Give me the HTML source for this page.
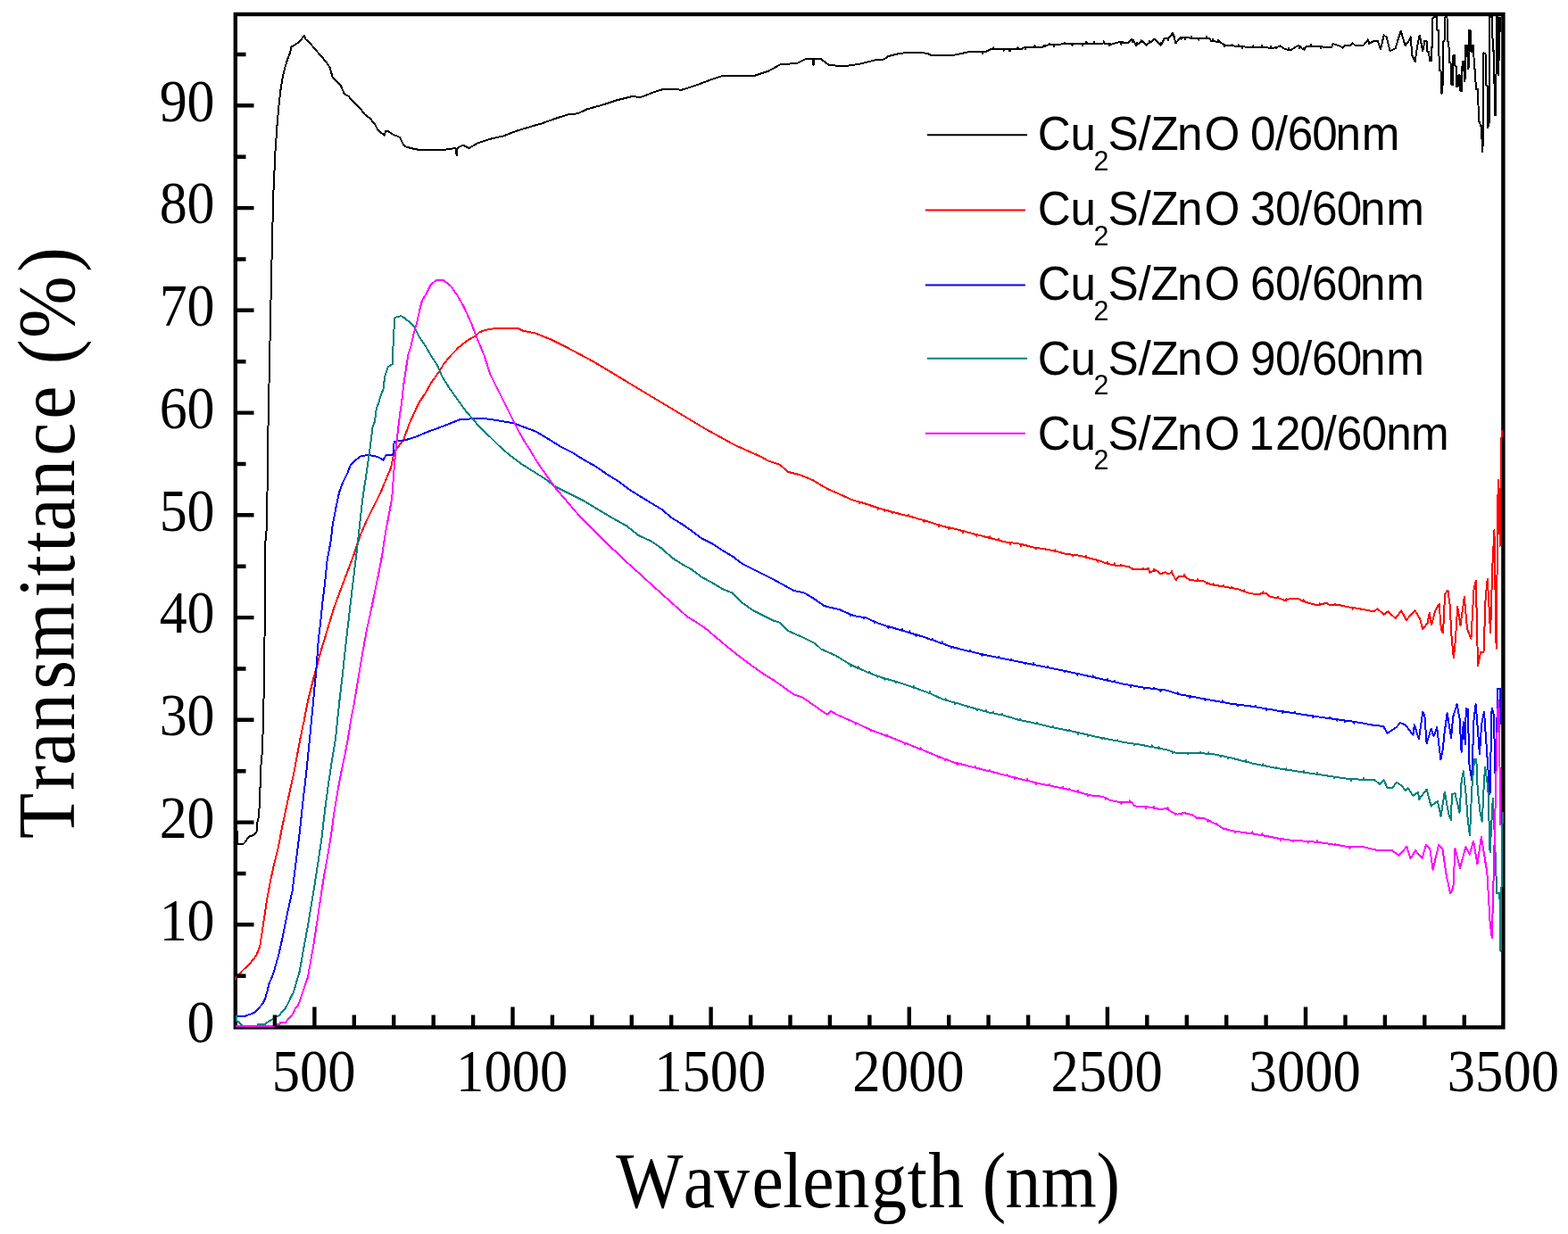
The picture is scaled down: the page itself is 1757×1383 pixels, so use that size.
<!DOCTYPE html>
<html><head><meta charset="utf-8"><style>
html,body{margin:0;padding:0;background:#fff;}
svg{display:block;}
</style></head><body>
<svg width="1757" height="1383" viewBox="0 0 1757 1383">
<rect width="1757" height="1383" fill="#fff"/>
<rect x="263.8" y="16" width="1420.6" height="1135.4" fill="none" stroke="#000" stroke-width="4.4"/><path d="M265.0 923.0L266.5 946.0 272.0 946.5 274.5 944.0 278.8 937.7 284.6 935.9 287.8 931.5 288.5 921.4 290.0 915.0 291.2 893.2 292.2 860.0 294.1 840.0 296.1 759.0 297.5 606.0 299.0 590.0 300.4 483.0 302.7 373.3 304.8 278.0 306.2 220.0 308.4 171.1 310.6 139.3 312.8 114.7 315.0 96.6 317.1 85.1 319.3 75.7 322.2 66.3 325.1 59.0 326.5 52.5 329.4 51.1 335.2 46.8 341.0 40.2 342.4 43.9 346.8 47.5 352.6 54.7 359.8 62.7 366.3 70.6 369.9 76.4 372.8 87.2 375.7 89.4 381.5 95.2 385.8 105.3 390.2 107.5 395.9 114.0 404.6 122.7 409.0 128.5 414.7 132.8 420.5 140.0 423.4 145.8 430.6 151.6 432.1 147.3 435.0 147.3 440.8 150.9 448.0 153.8 452.3 162.4 455.2 164.6 465.0 167.2 474.1 168.3 499.2 167.6 510.6 166.0 511.7 174.0 512.5 166.0 518.5 162.6 525.4 166.0 535.6 160.3 549.3 155.8 564.1 152.4 578.9 146.7 599.4 140.5 606.2 138.7 622.1 133.0 635.8 128.5 647.2 127.3 658.6 122.1 676.8 117.1 690.4 112.5 708.6 108.0 717.7 109.1 733.7 102.9 742.8 100.1 764.4 100.6 783.7 94.2 802.0 87.4 811.0 84.6 846.4 84.6 861.2 79.6 874.8 72.1 893.0 71.0 902.1 66.4 911.2 66.0 911.5 73.3 912.0 66.0 920.3 66.4 929.4 73.3 947.7 73.9 961.3 72.1 979.5 67.6 990.9 66.4 995.5 63.0 1009.1 59.6 1025.0 59.1 1038.7 59.6 1043.3 61.9 1066.0 62.3 1084.3 58.5 1100.8 57.9 1101.2 60.4 1101.6 57.9 1104.7 57.8 1109.3 55.5 1112.9 55.3 1113.3 53.3 1113.7 55.3 1120.0 55.0 1124.3 55.1 1124.7 56.9 1125.1 55.1 1131.1 55.1 1131.5 57.5 1131.9 55.1 1140.1 55.3 1140.5 53.2 1140.9 55.3 1144.4 55.3 1147.8 53.0 1148.6 53.0 1149.0 55.0 1149.4 53.0 1159.0 53.0 1159.4 51.1 1159.8 53.0 1168.3 53.0 1170.6 50.7 1170.6 50.7 1171.0 52.5 1171.4 50.7 1175.9 50.3 1176.3 48.7 1176.7 50.3 1180.7 50.0 1181.1 52.3 1181.5 50.0 1192.7 49.3 1193.1 47.4 1193.5 49.3 1195.6 49.1 1201.1 49.0 1201.5 51.0 1201.9 49.0 1212.5 48.8 1212.9 51.1 1213.3 48.8 1217.0 48.8 1217.4 46.6 1217.8 48.8 1225.5 48.7 1225.9 46.7 1226.3 48.7 1236.5 48.5 1236.6 48.5 1236.9 46.3 1237.3 48.5 1243.0 49.3 1243.4 51.2 1243.8 49.3 1245.7 49.6 1254.8 46.9 1256.0 47.2 1256.4 49.6 1256.8 47.2 1263.9 48.5 1268.5 43.9 1268.7 44.7 1269.1 46.7 1269.5 44.7 1273.0 50.7 1273.4 50.2 1273.8 48.0 1274.2 50.2 1278.2 47.1 1278.6 45.2 1279.0 47.1 1279.9 46.2 1284.4 50.7 1287.5 48.1 1287.9 46.0 1288.3 48.1 1293.5 43.9 1300.3 50.7 1300.5 49.7 1300.9 47.8 1301.3 49.7 1304.9 42.8 1308.4 42.8 1308.8 44.8 1309.2 42.8 1309.4 42.8 1314.0 37.1 1314.9 41.3 1315.3 39.3 1315.7 41.3 1317.4 48.5 1323.1 41.6 1323.2 41.6 1323.6 44.1 1324.0 41.6 1327.9 42.1 1328.3 44.0 1328.7 42.1 1334.4 42.6 1334.8 40.7 1335.2 42.6 1336.8 42.8 1342.9 42.8 1343.3 44.8 1343.7 42.8 1351.8 42.8 1352.2 40.8 1352.6 42.8 1355.0 42.8 1357.3 46.2 1358.4 46.3 1358.8 44.0 1359.2 46.3 1365.0 46.8 1365.4 44.8 1365.8 46.8 1366.3 46.9 1371.5 50.0 1371.9 52.3 1372.3 50.0 1373.2 50.7 1380.1 51.3 1380.5 49.7 1380.9 51.3 1382.3 51.4 1387.2 51.9 1387.6 50.3 1388.0 51.9 1391.9 52.3 1392.3 54.2 1392.7 52.3 1400.5 53.0 1403.9 53.1 1404.3 51.3 1404.7 53.1 1413.4 53.3 1413.8 51.0 1414.2 53.3 1423.7 53.6 1424.1 51.8 1424.5 53.6 1427.8 53.7 1429.9 52.9 1430.3 54.5 1430.7 52.9 1434.6 51.4 1439.2 54.6 1443.3 55.8 1443.7 53.8 1444.1 55.8 1446.0 56.4 1455.1 50.7 1455.6 51.6 1456.0 53.7 1456.4 51.6 1459.7 55.3 1461.2 53.9 1461.6 55.8 1462.0 53.9 1464.2 51.9 1468.7 51.9 1469.1 49.9 1469.5 51.9 1477.9 51.9 1479.6 52.2 1480.0 53.8 1480.4 52.2 1484.7 53.0 1492.3 53.0 1493.5 49.1 1502.1 51.8 1504.6 53.6 1507.0 51.2 1513.2 50.6 1515.7 48.4 1518.1 50.6 1528.0 50.6 1532.9 44.4 1534.1 48.7 1539.0 46.3 1543.9 46.3 1547.0 55.5 1550.7 39.5 1553.8 42.0 1557.5 57.3 1563.6 54.3 1567.3 42.0 1569.8 34.6 1572.2 43.2 1574.7 51.2 1578.4 46.3 1580.8 41.4 1582.1 61.6 1585.7 69.0 1588.2 51.2 1590.7 39.5 1594.3 57.3 1596.5 45.6 1598.5 45.6 1599.5 58.0 1601.0 58.0 1602.0 67.8 1604.0 67.8 1604.3 53.0 1605.0 53.0 1605.5 20.4 1607.0 18.6 1610.0 18.6 1610.5 34.0 1612.0 34.0 1612.8 79.4 1614.5 79.4 1615.5 104.6 1616.5 97.9 1617.5 45.6 1618.5 45.6 1619.5 18.6 1621.5 18.6 1621.8 45.6 1623.3 48.1 1624.3 70.2 1625.5 70.2 1626.5 94.8 1628.0 94.8 1628.5 61.6 1630.0 61.6 1630.5 73.9 1631.5 73.9 1632.3 97.3 1633.5 97.3 1634.5 83.7 1635.5 83.7 1636.5 102.2 1638.0 102.2 1638.6 69.0 1640.0 69.0 1641.0 91.1 1641.5 91.1 1642.0 50.6 1644.0 50.6 1645.0 77.0 1645.5 77.0 1646.3 34.0 1647.5 34.0 1648.5 57.9 1649.5 57.9 1650.3 50.6 1651.0 50.6 1652.0 77.6 1653.0 77.6 1653.8 99.7 1656.0 99.7 1657.0 136.6 1658.0 136.6 1658.8 140.9 1660.0 140.9 1661.0 169.8 1661.8 161.2 1662.5 59.2 1664.5 60.4 1665.5 96.0 1666.5 96.0 1667.0 142.7 1668.5 140.3 1669.0 18.6 1672.0 18.6 1672.8 56.7 1674.0 56.7 1675.0 129.2 1676.0 129.2 1676.5 83.7 1677.0 18.6 1678.5 18.6 1679.0 83.7 1680.0 54.2 1681.0 18.6" fill="none" stroke="#000000" stroke-width="2" stroke-linejoin="round" shape-rendering="crispEdges"/>
<path d="M263.0 1097.0L265.7 1094.6 269.1 1090.6 273.0 1086.5 280.0 1080.0 287.3 1070.8 291.3 1060.4 295.2 1034.4 299.1 1008.3 303.0 987.5 306.9 969.3 312.1 948.4 316.0 927.6 319.9 909.4 323.8 891.1 329.0 867.7 332.9 846.9 336.8 826.0 340.7 807.8 344.6 787.2 352.0 757.7 359.3 730.7 366.7 706.1 374.1 681.5 381.4 661.9 388.8 642.2 396.2 622.5 403.6 600.4 410.9 583.2 418.3 568.5 425.7 553.7 431.8 539.0 438.0 524.2 441.6 506.9 452.1 493.0 459.0 473.9 469.4 451.4 476.4 441.0 483.3 428.8 492.0 416.7 497.2 408.0 505.9 397.6 514.5 388.9 523.2 382.0 533.6 375.9 537.1 372.4 544.0 369.8 554.4 368.1 580.5 368.1 585.7 370.7 599.6 373.3 610.0 377.6 616.9 380.2 625.6 384.6 637.7 390.7 663.6 404.5 695.4 423.6 727.2 442.7 759.0 461.8 790.8 480.9 822.6 498.4 854.5 512.7 860.0 516.2 873.9 520.8 883.1 528.9 897.0 532.4 910.9 538.2 920.0 543.7 928.8 548.7 937.1 552.2 954.1 559.9 963.0 562.7 963.4 564.5 963.8 562.7 971.2 565.0 983.3 569.1 983.7 570.6 984.1 569.1 988.3 570.6 991.0 571.4 991.4 572.8 991.8 571.4 999.2 573.6 999.6 575.4 1000.0 573.6 1005.4 575.2 1017.9 578.5 1018.3 576.7 1018.7 578.5 1022.4 579.5 1035.2 583.2 1035.6 584.8 1036.0 583.2 1039.5 584.3 1051.6 588.3 1052.0 589.9 1052.4 588.3 1056.6 589.8 1062.9 591.3 1063.3 593.1 1063.7 591.3 1073.7 593.7 1078.4 595.1 1078.8 597.0 1079.2 595.1 1090.7 598.3 1093.9 599.2 1094.3 600.7 1094.7 599.2 1107.8 602.6 1109.0 603.0 1109.4 601.5 1109.8 603.0 1118.3 605.5 1118.7 603.6 1119.1 605.5 1124.9 607.2 1131.3 608.1 1131.7 610.0 1132.1 608.1 1142.0 609.4 1143.8 610.0 1144.2 611.8 1144.6 610.0 1159.0 613.7 1160.9 614.0 1161.3 615.5 1161.7 614.0 1176.1 616.2 1181.8 617.7 1182.2 616.3 1182.6 617.7 1193.2 620.5 1202.1 621.8 1202.5 623.4 1202.9 621.8 1210.0 622.8 1216.8 624.6 1217.2 622.7 1217.6 624.6 1220.2 625.4 1230.0 627.9 1230.4 629.7 1230.5 627.9 1230.8 627.9 1240.7 631.9 1240.7 632.0 1241.1 630.2 1241.5 632.0 1248.2 633.4 1248.6 631.4 1249.0 633.4 1251.0 633.9 1255.6 634.2 1256.0 633.0 1256.4 634.2 1264.6 634.8 1269.1 638.0 1269.5 636.6 1269.8 638.2 1269.9 638.0 1280.6 638.2 1281.0 636.5 1281.4 638.2 1285.1 638.2 1286.8 636.5 1288.5 641.6 1292.9 639.8 1293.3 638.0 1293.7 639.8 1295.4 639.0 1300.5 643.3 1305.6 641.2 1309.0 643.3 1312.4 641.9 1312.4 641.2 1312.8 640.0 1313.2 641.9 1317.6 650.1 1321.0 645.9 1326.8 645.9 1327.2 644.0 1327.6 645.9 1327.8 645.9 1332.9 650.1 1341.6 650.8 1342.0 649.2 1342.4 650.8 1344.9 651.0 1348.3 651.0 1351.9 653.0 1352.3 654.2 1352.7 653.0 1356.8 655.2 1359.2 655.6 1359.6 654.3 1360.0 655.6 1370.8 657.4 1371.2 656.1 1371.6 657.4 1372.2 657.5 1379.7 659.0 1380.1 657.8 1380.5 659.0 1387.6 660.4 1393.9 662.9 1394.3 661.4 1394.7 662.9 1397.8 664.3 1408.1 666.3 1414.8 665.1 1415.2 663.3 1415.6 665.1 1418.3 664.6 1423.4 668.9 1431.3 670.3 1431.7 668.5 1432.1 670.3 1433.7 670.6 1440.5 673.2 1440.8 672.8 1441.2 671.3 1441.6 672.8 1445.6 670.6 1455.9 671.5 1459.3 673.5 1460.3 674.0 1460.7 672.1 1461.1 674.0 1466.1 675.7 1476.4 678.3 1478.5 677.7 1478.9 676.4 1479.3 677.7 1483.2 676.6 1486.6 675.7 1490.0 678.3 1495.8 678.1 1496.2 676.9 1496.6 678.1 1500.3 678.0 1508.8 680.0 1515.5 681.1 1515.9 682.6 1516.3 681.1 1527.3 683.0 1540.0 685.4 1543.3 682.2 1550.8 688.7 1555.2 685.4 1563.8 693.0 1570.3 684.4 1575.8 695.2 1581.2 688.7 1585.5 684.4 1590.9 693.0 1594.2 705.0 1599.6 698.5 1601.8 686.5 1604.0 700.6 1608.3 684.4 1612.6 676.8 1614.8 705.0 1617.0 709.3 1619.1 665.9 1622.4 661.6 1624.5 676.8 1626.7 715.8 1628.9 737.5 1631.0 715.8 1633.2 680.0 1636.5 700.6 1640.8 669.2 1644.1 705.0 1648.4 715.8 1651.6 659.4 1653.8 650.8 1656.0 746.1 1659.2 731.0 1662.5 731.0 1664.6 670.3 1666.8 648.6 1670.1 709.3 1672.2 637.8 1674.4 594.4 1676.6 726.6 1678.7 538.0 1680.9 611.7 1682.0 496.9 1683.1 481.7" fill="none" stroke="#ff0000" stroke-width="2" stroke-linejoin="round" shape-rendering="crispEdges"/>
<path d="M264.5 1138.7L274.8 1138.7 281.6 1136.4 286.2 1134.1 290.2 1129.8 294.7 1124.1 297.0 1119.6 299.3 1111.6 301.5 1102.5 303.8 1097.0 306.1 1091.7 312.1 1070.8 317.3 1047.4 322.5 1021.4 327.7 997.9 331.6 966.7 335.5 935.4 339.4 899.0 343.3 865.1 347.2 826.0 350.7 789.7 354.4 750.3 356.9 715.9 359.3 696.3 361.8 671.7 364.2 652.0 366.7 627.5 370.4 607.8 372.8 588.1 376.5 568.5 380.2 551.3 383.9 541.4 388.8 531.6 392.5 521.8 398.6 515.6 404.8 511.0 413.4 510.0 423.2 512.0 429.4 515.6 433.0 509.5 440.4 509.5 441.7 494.7 452.1 493.9 465.9 489.6 478.1 484.4 497.2 477.4 514.5 470.5 535.4 468.7 547.5 469.6 563.1 472.2 575.0 474.1 587.7 478.9 600.5 483.6 616.4 493.2 629.1 501.1 641.8 507.5 654.6 515.5 667.3 522.6 680.0 531.4 692.7 539.3 705.5 548.9 718.2 556.8 730.0 564.0 741.4 570.8 752.8 580.5 764.1 587.3 775.5 595.3 786.9 603.8 798.3 609.5 809.7 616.9 821.1 623.7 832.4 632.3 843.8 638.0 855.2 643.7 866.6 649.4 878.0 655.6 889.4 661.9 900.7 664.2 912.1 671.0 923.5 679.0 930.0 680.7 941.0 683.3 952.9 688.6 953.3 690.1 953.7 688.6 957.2 690.2 967.6 692.0 968.0 693.5 968.4 692.0 971.1 692.5 979.7 696.7 980.1 698.4 980.5 696.7 985.0 699.0 995.2 702.1 995.6 703.8 996.0 702.1 1003.6 704.5 1010.9 706.8 1011.3 705.1 1011.7 706.8 1018.9 709.2 1019.3 707.3 1019.7 709.2 1026.0 711.3 1026.4 713.1 1026.8 711.3 1035.4 714.0 1044.8 717.4 1045.2 715.5 1045.6 717.4 1055.4 721.2 1055.8 719.4 1056.2 721.2 1065.7 724.8 1066.1 726.5 1066.5 724.8 1067.2 725.2 1086.6 730.1 1087.0 728.7 1087.4 730.1 1099.0 733.1 1100.2 733.4 1100.6 735.0 1101.0 733.4 1118.9 737.2 1119.3 735.9 1119.7 737.2 1130.8 739.5 1132.6 739.9 1133.0 738.4 1133.4 739.9 1148.5 743.1 1148.9 744.3 1149.3 743.1 1157.6 744.9 1158.0 743.1 1158.4 744.9 1162.6 745.8 1173.5 748.1 1173.9 746.8 1174.3 748.1 1192.7 751.9 1193.1 753.4 1193.5 751.9 1194.5 752.2 1207.0 755.0 1207.4 756.7 1207.8 755.0 1224.4 758.9 1224.8 757.3 1225.2 758.9 1226.3 759.2 1240.8 762.6 1241.2 761.2 1241.6 762.6 1248.7 764.4 1249.1 763.1 1249.5 764.4 1258.1 766.5 1266.3 768.0 1266.7 770.0 1267.1 768.0 1280.0 770.4 1281.6 770.6 1282.0 772.1 1282.4 770.6 1292.8 772.0 1293.2 770.7 1293.6 772.0 1300.2 772.9 1300.6 774.9 1301.0 772.9 1307.5 773.7 1319.3 777.6 1319.7 776.2 1320.1 777.6 1321.2 778.1 1333.0 780.3 1333.4 782.2 1333.8 780.3 1350.0 783.4 1350.4 784.9 1350.8 783.4 1354.2 784.1 1369.3 787.0 1369.7 785.3 1370.1 787.0 1376.2 788.2 1386.3 789.6 1386.7 791.3 1387.1 789.6 1403.7 791.8 1406.2 792.3 1406.6 790.8 1407.0 792.3 1418.7 794.4 1419.1 796.4 1419.5 794.4 1431.1 796.5 1437.0 797.4 1437.4 799.4 1437.8 797.4 1450.2 799.4 1450.6 797.8 1451.0 799.4 1458.6 800.6 1470.3 802.4 1470.7 804.2 1471.1 802.4 1486.1 804.7 1489.6 805.2 1490.0 804.0 1490.4 805.2 1498.0 806.3 1498.4 807.6 1498.8 806.3 1506.9 807.5 1507.3 809.0 1507.7 807.5 1513.6 808.3 1516.9 808.9 1517.3 810.6 1517.7 808.9 1532.8 811.6 1540.0 813.0 1550.1 813.8 1554.5 821.7 1564.6 815.2 1568.9 810.2 1574.7 812.3 1583.4 823.9 1584.8 812.3 1589.9 828.2 1594.2 797.9 1596.4 802.2 1598.6 833.3 1603.6 816.7 1606.5 825.3 1610.2 815.2 1612.3 834.0 1614.5 851.4 1616.7 839.8 1618.8 819.6 1621.7 799.3 1626.1 826.8 1628.2 803.6 1632.6 789.2 1635.5 805.1 1637.6 842.7 1639.8 809.4 1642.0 834.0 1642.7 793.5 1644.9 795.0 1646.3 855.7 1649.2 874.5 1651.4 808.0 1653.6 789.2 1655.7 815.2 1657.9 845.6 1660.1 812.3 1663.0 797.9 1665.9 839.8 1669.5 890.4 1671.6 793.5 1673.8 800.8 1676.0 886.1 1678.1 771.8 1681.0 771.8 1681.8 812.3" fill="none" stroke="#0000ff" stroke-width="2" stroke-linejoin="round" shape-rendering="crispEdges"/>
<path d="M264.8 1137.8L264.8 1143.5 267.4 1145.5 269.7 1147.8 272.0 1149.5 288.0 1149.5 289.6 1147.8 297.6 1147.8 299.8 1145.5 304.4 1142.9 308.4 1140.1 313.5 1137.8 315.2 1134.4 317.5 1132.1 319.8 1129.8 322.0 1126.4 324.0 1121.9 326.0 1117.3 328.6 1112.8 330.9 1105.4 333.1 1097.4 335.7 1089.0 340.7 1060.4 344.6 1039.6 348.5 1016.1 352.4 992.7 356.4 966.7 360.3 940.6 364.2 906.8 368.1 878.1 372.0 852.1 375.9 828.6 380.2 787.2 383.9 755.3 387.6 720.8 391.3 688.9 395.0 656.9 398.6 627.5 402.3 595.5 406.0 561.1 409.7 536.5 413.0 513.9 415.6 494.8 417.4 479.2 420.0 472.2 421.7 458.3 424.3 451.4 426.9 442.7 429.5 435.8 431.2 421.9 434.7 411.5 439.9 408.0 440.8 378.5 442.5 355.9 449.5 354.2 453.8 356.8 459.0 361.2 464.2 366.4 469.4 376.8 476.4 387.2 483.3 399.3 490.2 409.7 495.4 421.9 504.1 435.8 512.8 447.9 521.5 460.1 531.9 472.2 540.0 481.3 549.5 490.0 560.7 501.1 571.8 510.7 584.6 520.2 597.3 528.2 610.0 536.1 622.7 545.7 638.6 553.6 654.6 561.6 670.5 571.2 686.4 580.7 702.3 589.5 715.0 599.8 730.0 606.7 741.4 614.6 752.8 624.9 764.1 632.3 775.5 638.5 786.9 647.1 798.3 653.3 809.7 660.2 821.1 664.7 832.4 676.1 843.8 684.1 855.2 689.8 866.6 695.5 873.4 697.7 883.1 707.1 899.3 714.1 913.2 721.0 920.0 727.4 937.1 735.1 952.9 744.9 953.3 746.6 953.7 744.9 954.1 745.4 961.3 748.8 961.7 747.3 962.1 748.8 971.2 753.1 973.9 754.3 974.3 752.8 974.7 754.3 983.1 757.7 983.5 759.0 983.9 757.7 988.3 759.5 991.0 760.4 991.4 762.1 991.8 760.4 1003.6 763.8 1004.0 765.4 1004.4 763.8 1005.4 764.2 1022.4 770.1 1023.5 770.6 1023.9 768.9 1024.3 770.6 1039.5 776.1 1041.7 777.3 1042.1 775.3 1042.5 777.3 1056.6 783.8 1059.4 784.7 1059.8 783.4 1060.2 784.7 1069.5 787.5 1069.9 789.2 1070.3 787.5 1073.7 788.5 1084.0 791.7 1084.4 793.1 1084.8 791.7 1090.7 793.6 1094.9 794.9 1095.3 796.4 1095.7 794.9 1104.3 797.5 1104.7 795.8 1105.1 797.5 1107.8 798.4 1112.8 799.5 1113.2 797.5 1113.6 799.5 1122.8 801.5 1123.2 799.6 1123.6 801.5 1124.9 801.8 1142.0 807.0 1142.8 807.2 1143.2 805.8 1143.6 807.2 1159.0 810.4 1161.4 811.1 1161.8 809.8 1162.2 811.1 1176.1 814.6 1179.7 815.4 1180.1 814.0 1180.5 815.4 1193.2 818.0 1197.9 819.0 1198.3 817.8 1198.7 819.0 1207.6 821.0 1208.0 822.9 1208.4 821.0 1210.3 821.5 1218.9 823.6 1219.3 825.4 1219.7 823.6 1226.3 825.3 1234.7 827.1 1235.1 828.3 1235.5 827.1 1251.9 830.5 1252.3 829.1 1252.7 830.5 1258.1 831.7 1270.9 833.7 1271.3 835.5 1271.7 833.7 1280.0 835.0 1290.2 837.1 1290.6 835.2 1291.0 837.1 1298.4 838.7 1298.8 837.3 1299.2 838.7 1307.5 840.4 1313.9 842.6 1314.3 844.5 1314.7 842.6 1318.5 844.0 1330.3 844.2 1330.7 845.5 1331.1 844.2 1344.4 844.4 1344.8 842.7 1345.2 844.4 1353.9 844.6 1354.3 843.1 1354.7 844.6 1356.9 844.6 1367.5 846.9 1367.9 848.4 1368.3 846.9 1375.8 848.7 1376.2 850.0 1376.2 848.7 1376.6 848.7 1395.9 853.7 1396.3 851.7 1396.7 853.7 1403.7 855.6 1415.0 857.9 1415.4 856.4 1415.8 857.9 1429.7 860.9 1430.1 859.4 1430.5 860.9 1431.1 861.1 1440.9 862.6 1441.3 861.3 1441.7 862.6 1458.6 865.2 1460.6 865.6 1461.0 864.3 1461.4 865.6 1475.6 867.8 1476.0 866.1 1476.4 867.8 1486.1 869.3 1494.9 870.7 1495.3 872.4 1495.7 870.7 1513.6 873.4 1513.8 873.4 1514.2 875.1 1514.6 873.4 1527.9 873.6 1528.3 871.6 1528.7 873.6 1540.0 873.8 1545.8 878.9 1550.8 874.5 1554.5 883.2 1560.3 883.2 1564.6 876.7 1570.4 880.3 1574.7 886.1 1577.6 883.2 1583.4 891.9 1589.2 887.5 1589.9 896.2 1598.6 884.7 1603.6 903.5 1610.9 897.7 1614.5 915.0 1618.8 887.5 1623.2 912.1 1626.1 919.4 1626.8 890.4 1630.4 889.0 1635.5 910.7 1637.6 876.0 1639.8 864.4 1642.7 890.4 1644.9 920.8 1647.0 936.0 1649.2 884.7 1652.1 850.7 1654.3 851.4 1655.7 884.7 1658.6 910.7 1660.8 920.8 1663.0 874.5 1664.2 860.0 1667.4 883.9 1669.6 955.5 1672.8 894.7 1675.0 940.3 1677.2 1001.1 1680.4 1001.1 1681.5 1066.2 1683.7 909.9" fill="none" stroke="#008080" stroke-width="2" stroke-linejoin="round" shape-rendering="crispEdges"/>
<path d="M264.0 1150.2L307.0 1150.2 307.5 1147.8 313.8 1147.8 314.5 1145.5 320.6 1145.5 322.0 1142.9 324.3 1140.9 326.6 1138.7 328.9 1135.0 331.1 1129.8 333.4 1127.6 335.7 1122.4 338.0 1115.6 340.2 1108.8 342.5 1102.0 344.8 1095.7 346.5 1086.5 351.1 1060.4 355.1 1034.4 359.0 1008.3 362.9 982.3 366.8 961.5 370.7 938.0 374.6 909.4 378.5 885.9 382.4 865.1 386.3 846.9 390.2 826.0 393.5 805.0 396.2 792.1 401.1 762.6 406.0 733.1 410.9 706.1 415.8 684.0 420.8 659.4 424.4 642.2 428.1 622.5 431.8 598.0 435.5 578.3 439.2 558.6 441.7 524.2 442.9 510.0 445.1 489.6 447.7 467.0 450.3 449.7 452.1 432.3 454.7 414.9 457.3 397.6 460.7 387.2 463.3 375.0 466.8 362.9 470.3 347.3 472.9 336.9 477.2 329.9 482.4 319.5 488.5 314.3 497.2 314.3 505.0 320.4 512.8 331.6 519.7 343.8 528.4 362.9 533.6 376.8 542.3 397.6 549.5 420.0 555.9 432.7 562.3 445.5 568.6 458.2 575.0 470.9 581.4 483.6 587.7 494.8 594.1 504.3 600.5 515.5 606.8 525.0 614.8 536.1 622.7 547.3 632.3 558.4 641.8 569.6 651.4 580.7 660.9 590.2 672.1 601.4 683.2 612.5 692.7 620.5 702.3 630.0 713.4 640.0 727.2 652.6 759.0 681.2 770.0 691.1 780.8 697.6 791.6 705.1 802.4 714.3 813.3 723.5 824.1 732.2 834.9 740.3 845.7 748.4 856.5 756.0 867.3 762.5 878.1 770.0 889.0 778.1 899.8 781.9 910.6 789.5 921.4 797.1 926.8 800.8 931.1 797.1 937.6 800.8 945.6 804.3 958.3 810.0 958.7 811.9 959.1 810.0 961.8 811.3 975.7 818.2 975.7 818.3 976.1 819.6 976.5 818.3 993.8 825.0 994.2 823.7 994.6 825.0 1003.6 828.5 1014.0 832.8 1014.4 834.2 1014.8 832.8 1031.4 839.8 1031.8 838.3 1032.2 839.8 1035.4 841.2 1051.3 847.8 1051.7 849.4 1052.1 847.8 1058.7 850.7 1059.1 852.0 1059.5 850.7 1067.2 854.0 1072.2 855.3 1072.6 857.2 1073.0 855.3 1092.4 860.4 1092.8 858.6 1093.2 860.4 1099.0 861.9 1108.5 864.4 1108.9 862.8 1109.3 864.4 1128.1 869.3 1128.5 868.1 1128.9 869.3 1130.8 869.9 1136.7 871.5 1137.1 873.4 1137.5 871.5 1150.3 874.8 1150.7 873.0 1151.1 874.8 1160.7 877.4 1161.1 879.1 1161.5 877.4 1162.6 877.8 1175.4 880.4 1175.8 878.9 1176.2 880.4 1190.4 883.5 1190.8 881.9 1191.2 883.5 1194.5 884.2 1197.6 885.1 1198.0 883.4 1198.4 885.1 1207.6 887.6 1208.0 886.3 1208.4 887.6 1210.0 888.1 1218.5 890.5 1218.9 892.5 1219.3 890.5 1223.7 891.8 1235.6 892.7 1238.3 894.3 1238.7 895.8 1239.1 894.3 1244.1 897.0 1254.4 899.0 1256.1 899.0 1256.5 900.9 1256.9 899.0 1265.3 899.0 1265.7 897.2 1266.1 899.0 1268.0 899.0 1271.5 903.4 1283.5 904.3 1283.9 905.9 1284.3 904.3 1288.5 904.6 1292.4 905.5 1292.8 903.6 1293.2 905.5 1300.5 907.2 1307.3 905.8 1308.0 906.7 1308.4 905.2 1308.8 906.7 1312.4 909.8 1316.8 911.8 1317.2 913.2 1317.6 911.8 1319.3 912.7 1323.8 911.5 1324.2 913.4 1324.6 911.5 1326.1 911.0 1336.3 913.2 1341.5 917.4 1343.0 917.4 1343.4 916.0 1343.8 917.4 1350.0 917.4 1353.0 919.1 1353.4 920.6 1353.8 919.1 1363.0 924.1 1363.4 922.7 1363.7 924.3 1363.8 924.1 1370.5 928.5 1380.7 931.1 1383.7 931.6 1384.1 933.3 1384.5 931.6 1397.8 933.7 1403.0 934.5 1403.4 932.5 1403.8 934.5 1414.0 936.1 1414.4 934.4 1414.8 936.1 1414.9 936.2 1432.0 939.6 1434.5 940.0 1434.9 942.0 1435.3 940.0 1449.0 942.2 1449.0 942.2 1449.4 943.4 1449.8 942.2 1465.5 942.7 1465.9 944.6 1466.1 942.7 1466.3 942.7 1475.4 943.9 1475.8 942.2 1476.2 943.9 1483.2 944.8 1495.6 946.7 1496.0 945.4 1496.4 946.7 1500.3 947.3 1510.0 949.0 1512.2 949.0 1512.6 950.8 1513.0 949.0 1527.3 949.0 1543.8 953.1 1560.0 953.3 1567.6 958.7 1576.3 949.0 1580.6 962.0 1586.0 953.3 1593.6 962.0 1598.0 946.8 1602.3 951.1 1605.6 975.0 1612.1 946.8 1616.4 951.1 1620.8 981.5 1625.1 1001.1 1628.4 994.5 1630.5 951.1 1636.0 972.8 1642.5 949.0 1646.8 957.7 1651.1 942.5 1655.5 968.5 1659.8 938.1 1666.3 977.2 1669.6 1033.6 1671.8 1051.0 1674.0 968.5 1676.1 881.7 1678.0 800.0 1679.4 785.0 1681.5 925.1" fill="none" stroke="#ff00ff" stroke-width="2" stroke-linejoin="round" shape-rendering="crispEdges"/><path d="M307.9 1150V1137.6M352.4 1150V1128.5M396.8 1150V1137.6M441.2 1150V1137.6M485.7 1150V1137.6M530.1 1150V1137.6M574.5 1150V1128.5M618.9 1150V1137.6M663.4 1150V1137.6M707.8 1150V1137.6M752.2 1150V1137.6M796.6 1150V1128.5M841.1 1150V1137.6M885.5 1150V1137.6M929.9 1150V1137.6M974.4 1150V1137.6M1018.8 1150V1128.5M1063.2 1150V1137.6M1107.6 1150V1137.6M1152.1 1150V1137.6M1196.5 1150V1137.6M1240.9 1150V1128.5M1285.3 1150V1137.6M1329.8 1150V1137.6M1374.2 1150V1137.6M1418.6 1150V1137.6M1463.0 1150V1128.5M1507.5 1150V1137.6M1551.9 1150V1137.6M1596.3 1150V1137.6M1640.8 1150V1137.6" stroke="#000" stroke-width="4.4" fill="none"/><path d="M265 1093.7H275.5M265 1036.3H284.5M265 979.0H275.5M265 921.6H284.5M265 864.2H275.5M265 806.8H284.5M265 749.5H275.5M265 692.1H284.5M265 634.7H275.5M265 577.3H284.5M265 520.0H275.5M265 462.6H284.5M265 405.2H275.5M265 347.8H284.5M265 290.5H275.5M265 233.1H284.5M265 175.7H275.5M265 118.3H284.5M265 61.0H275.5" stroke="#000" stroke-width="4.4" fill="none"/><g font-family="Liberation Serif, serif" font-size="67.0"><text transform="translate(240.6 1168.3) scale(0.925 1)" text-anchor="end">0</text><text transform="translate(240.6 1053.5) scale(0.925 1)" text-anchor="end">10</text><text transform="translate(240.6 938.8) scale(0.925 1)" text-anchor="end">20</text><text transform="translate(240.6 824.0) scale(0.925 1)" text-anchor="end">30</text><text transform="translate(240.6 709.3) scale(0.925 1)" text-anchor="end">40</text><text transform="translate(240.6 594.5) scale(0.925 1)" text-anchor="end">50</text><text transform="translate(240.6 479.8) scale(0.925 1)" text-anchor="end">60</text><text transform="translate(240.6 365.0) scale(0.925 1)" text-anchor="end">70</text><text transform="translate(240.6 250.3) scale(0.925 1)" text-anchor="end">80</text><text transform="translate(240.6 135.5) scale(0.925 1)" text-anchor="end">90</text></g><g font-family="Liberation Serif, serif" font-size="67.0"><text transform="translate(351.6 1223.0) scale(0.935 1)" text-anchor="middle">500</text><text transform="translate(573.7 1223.0) scale(0.935 1)" text-anchor="middle">1000</text><text transform="translate(795.8 1223.0) scale(0.935 1)" text-anchor="middle">1500</text><text transform="translate(1018.0 1223.0) scale(0.935 1)" text-anchor="middle">2000</text><text transform="translate(1240.1 1223.0) scale(0.935 1)" text-anchor="middle">2500</text><text transform="translate(1462.2 1223.0) scale(0.935 1)" text-anchor="middle">3000</text><text transform="translate(1684.4 1223.0) scale(0.935 1)" text-anchor="middle">3500</text></g><text transform="translate(0 1352.6) scale(0.9 1)" x="766.94 850.74 888.93 936.05 974.71 999.22 1038.36 1084.65 1129.81 1155.75 1200.00 1223.08 1251.58 1296.29 1364.95" y="0" font-family="Liberation Serif, serif" font-size="88.5">Wavelength (nm)</text><text transform="translate(83.4 0) rotate(-90) scale(0.93 1)" x="-1010.89 -952.59 -922.28 -880.70 -830.64 -796.00 -719.79 -694.18 -665.37 -640.24 -598.82 -549.33 -505.06 -465.12 -438.85 -407.65 -327.90" y="0" font-family="Liberation Serif, serif" font-size="90.0">Transmittance (%)</text><g font-family="Liberation Sans, sans-serif" font-size="54.0"><line x1="1038.9" y1="151.3" x2="1151" y2="151.3" stroke="#000000" stroke-width="2"/><text transform="translate(0 168.4) scale(0.95 1)"><tspan x="1224.00 1262.60" y="0">Cu</tspan><tspan x="1289.94" y="22.5" font-size="32">2</tspan><tspan x="1306.74 1342.66 1357.28 1388.31 1420.54 1462.54 1474.72 1503.87 1518.64 1547.72 1575.37 1606.13" y="0">S/ZnO 0/60nm</tspan></text><line x1="1036.8" y1="235.6" x2="1148.9" y2="235.6" stroke="#ff0000" stroke-width="2"/><text transform="translate(0 252.2) scale(0.95 1)"><tspan x="1224.00 1262.60" y="0">Cu</tspan><tspan x="1289.94" y="22.5" font-size="32">2</tspan><tspan x="1306.74 1342.66 1357.28 1388.31 1420.54 1462.54 1474.74 1504.11 1532.71 1547.49 1576.57 1604.21 1634.97" y="0">S/ZnO 30/60nm</tspan></text><line x1="1036.8" y1="319.5" x2="1148.9" y2="319.5" stroke="#0000ff" stroke-width="2"/><text transform="translate(0 336.0) scale(0.95 1)"><tspan x="1224.00 1262.60" y="0">Cu</tspan><tspan x="1289.94" y="22.5" font-size="32">2</tspan><tspan x="1306.74 1342.66 1357.28 1388.31 1420.54 1462.54 1474.74 1504.11 1532.71 1547.49 1576.57 1604.21 1634.97" y="0">S/ZnO 60/60nm</tspan></text><line x1="1038.9" y1="401.8" x2="1151" y2="401.8" stroke="#008080" stroke-width="2"/><text transform="translate(0 419.8) scale(0.95 1)"><tspan x="1224.00 1262.60" y="0">Cu</tspan><tspan x="1289.94" y="22.5" font-size="32">2</tspan><tspan x="1306.74 1342.66 1357.28 1388.31 1420.54 1462.54 1474.74 1504.11 1532.71 1547.49 1576.57 1604.21 1634.97" y="0">S/ZnO 90/60nm</tspan></text><line x1="1036.8" y1="485.8" x2="1148.9" y2="485.8" stroke="#ff00ff" stroke-width="2"/><text transform="translate(0 503.6) scale(0.95 1)"><tspan x="1224.00 1262.60" y="0">Cu</tspan><tspan x="1289.94" y="22.5" font-size="32">2</tspan><tspan x="1306.74 1342.66 1357.28 1388.31 1420.54 1462.54 1472.82 1504.25 1533.09 1561.60 1576.69 1606.14 1634.89 1664.18" y="0">S/ZnO 120/60nm</tspan></text></g>
</svg>
</body></html>
